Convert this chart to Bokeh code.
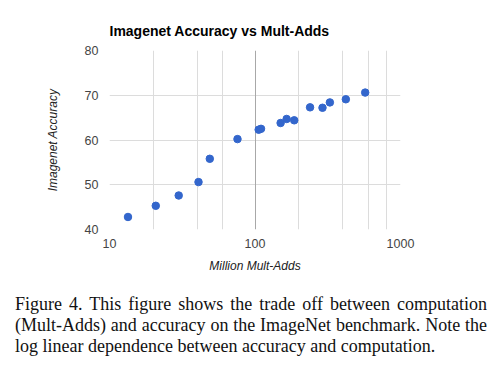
from bokeh.plotting import figure
from bokeh.models import Range1d, FixedTicker, Grid, Div
from bokeh.layouts import column
from bokeh.embed import file_html
from bokeh.resources import INLINE

# Data
mult_adds = [13.4, 20.8, 29.9, 40.9, 48.9, 75.8, 106, 110, 150, 165, 186, 239, 291, 327, 421, 572]
accuracy = [42.8, 45.3, 47.6, 50.6, 55.8, 60.2, 62.3, 62.5, 63.8, 64.7, 64.4, 67.3, 67.2, 68.4, 69.1, 70.6]

x_ticks = [10, 100, 1000]
x_tick_labels = ["10", "100", "1000"]
x_grid_ticks = [10, 20, 40, 60, 200, 400, 600, 800, 1000]
y_ticks = [40, 50, 60, 70, 80]

title = "Imagenet Accuracy vs Mult-Adds"
x_label = "Million Mult-Adds"
y_label = "Imagenet Accuracy"
caption_lines = [
    "Figure 4. This figure shows the trade off between computation",
    "(Mult-Adds) and accuracy on the ImageNet benchmark. Note the",
    "log linear dependence between accuracy and computation.",
]

SANS = "Liberation Sans"

p = figure(x_axis_type="log", output_backend="svg", toolbar_location=None,
           x_range=Range1d(10, 1000), y_range=Range1d(40, 80),
           frame_width=291, frame_height=179,
           min_border_left=109, min_border_right=88, min_border_top=50, min_border_bottom=50,
           title=title)
p.outline_line_color = None
p.background_fill_color = "white"
p.border_fill_color = "white"

p.title.text_font = SANS
p.title.text_font_size = "14px"
p.title.text_font_style = "bold"
p.title.text_color = "#000000"
p.title.standoff = 23

# grids
p.xgrid.ticker = FixedTicker(ticks=x_grid_ticks)
p.xgrid.grid_line_color = "#dcdcdc"
p.ygrid.ticker = FixedTicker(ticks=y_ticks)
p.ygrid.grid_line_color = "#dcdcdc"
p.add_layout(Grid(dimension=0, ticker=FixedTicker(ticks=[100]), grid_line_color="#a8a8a8"))

for ax in (p.xaxis, p.yaxis):
    ax.axis_line_color = None
    ax.major_tick_line_color = None
    ax.minor_tick_line_color = None
    ax.major_label_text_font = SANS
    ax.major_label_text_font_size = "12.5px"
    ax.major_label_text_color = "#444444"
    ax.axis_label_text_font = SANS
    ax.axis_label_text_font_size = "12px"
    ax.axis_label_text_font_style = "italic"
    ax.axis_label_text_color = "#222222"

p.xaxis.ticker = FixedTicker(ticks=x_ticks)
p.xaxis.major_label_overrides = {float(t): l for t, l in zip(x_ticks, x_tick_labels)}
p.xaxis.major_label_standoff = 3
p.xaxis.axis_label = x_label
p.xaxis.axis_label_standoff = 8

p.yaxis.ticker = FixedTicker(ticks=y_ticks)
p.yaxis.major_label_standoff = 5
p.yaxis.axis_label = y_label
p.yaxis.axis_label_standoff = 22

p.scatter(mult_adds, accuracy, size=7.5, color="#3366cc", line_color="#3366cc")

rows = []
for i, line in enumerate(caption_lines):
    last = "justify" if i < len(caption_lines) - 1 else "left"
    rows.append('<div style="text-align: justify; text-align-last: %s; white-space: nowrap;">%s</div>'
                % (last, line))
div = Div(text=(
    '<div style="font-family: \'Liberation Serif\', serif; font-size: 18px; '
    'line-height: 21px; margin-left: 10px; margin-top: 10px; '
    'width: 472px; color: #111;">' + "".join(rows) + '</div>'), width=488)

layout = column(p, div, spacing=0)
open("out.html", "w").write(file_html(layout, INLINE))
